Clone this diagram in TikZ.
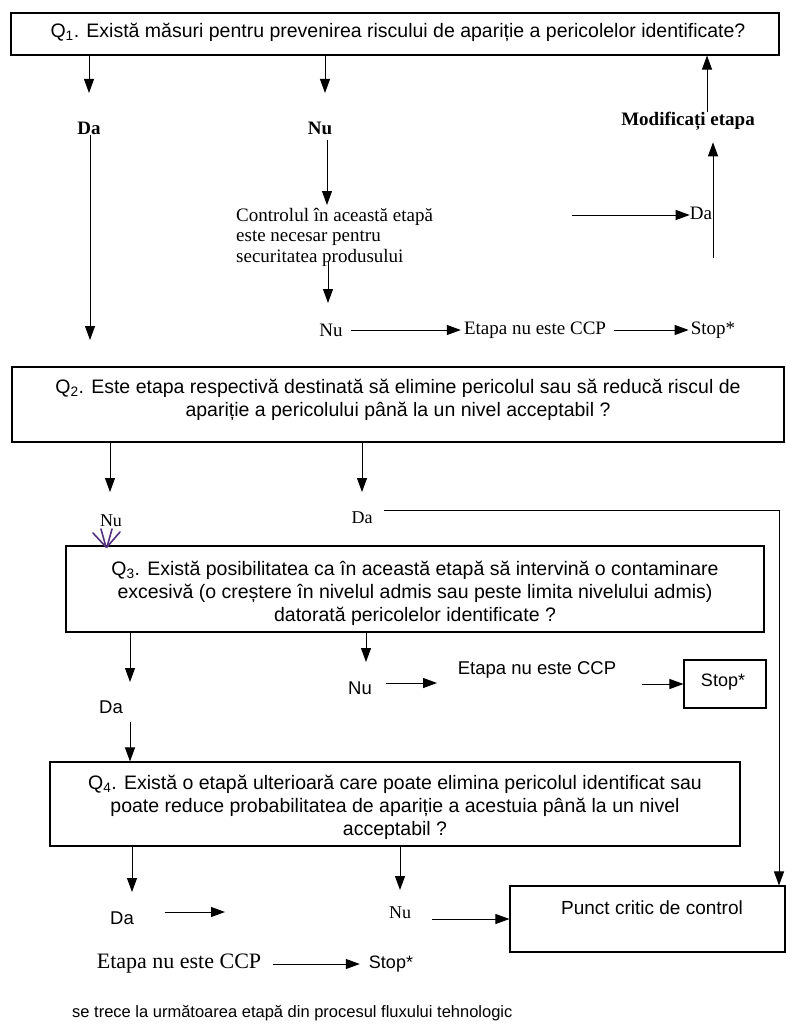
\documentclass[tikz,border=0pt]{standalone}
\usepackage{fontspec}
\setmainfont{Liberation Serif}
\setsansfont{Liberation Sans}
\usetikzlibrary{arrows.meta}
\definecolor{pen}{RGB}{85,50,125}
\begin{document}
\begin{tikzpicture}[x=1pt,y=-1pt,
  every node/.style={inner sep=0pt},
  qbox/.style={draw, line width=1.1pt},
  qtext/.style={font=\sffamily\fontsize{19.5}{23}\selectfont, align=center},
  sans/.style={font=\sffamily\fontsize{18.5}{22}\selectfont},
  serif/.style={font=\rmfamily\fontsize{19}{20.5}\selectfont},
  serifs/.style={font=\rmfamily\fontsize{18}{20}\selectfont},
  serifb/.style={font=\rmfamily\bfseries\fontsize{19}{20}\selectfont},
  arr/.style={line width=1pt, -{Triangle[length=14pt,width=10pt]}},
]
\path[use as bounding box] (0,0) rectangle (786,1027);
\fill[white] (0,0) rectangle (786,1027);

% ---------- Q1 ----------
\node[qbox, minimum width=768pt, minimum height=42pt] (q1) at (395,34) {};
\node[qtext] (q1t) at (398,32) {Q\textsubscript{1}. Există măsuri pentru prevenirea riscului de apariție a pericolelor identificate?};

\node[serifb] (da1) at (89,128) {Da};
\node[serifb] (nu1) at (320,128) {Nu};
\node[serifb] (mod) at (688,121) {Modificați etapa};

\coordinate (t1) at (89,93);
\coordinate (t2) at (325,93);
\draw[arr] (q1.south -| t1) -- (t1);
\draw[arr] (q1.south -| t2) -- (t2);

\coordinate (t3) at (90,340);
\draw[arr] (da1.south -| t3) -- (t3);

\node[serif, align=left, anchor=west] (ctrl) at (236,237) {Controlul în această etapă\\este necesar pentru\\securitatea produsului};
\coordinate (t4) at (327,205);
\draw[arr] ([yshift=-5pt]t4 |- nu1.south) -- (t4);

\node[serif] (nu2) at (331,330) {Nu};
\node[serif] (ccp1) at (535,330) {Etapa nu este CCP};
\node[serif] (stop1) at (713,330) {Stop*};
\coordinate (t5) at (328,303);
\draw[arr] ([yshift=4pt]ctrl.south -| t5) -- (t5);
\draw[arr, shorten <=8pt, shorten >=3pt] (nu2.east) -- (ccp1.west);
\draw[arr, shorten <=8pt, shorten >=2pt] (ccp1.east) -- (stop1.west);

\node[serif] (da3) at (701,213) {Da};
\coordinate (h0) at (572,215);
\draw[arr] (h0) -- (da3.west |- h0);
\coordinate (v0) at (713,258);
\draw[arr, shorten >=12pt] (v0) -- (mod.south -| v0);
\draw[arr] (mod.north -| 707,0) -- (q1.south -| 707,0);

% ---------- Q2 ----------
\node[qbox, minimum width=772pt, minimum height=75pt] (q2) at (398,404.5) {};
\node[qtext] (q2t) at (398,399.5) {Q\textsubscript{2}. Este etapa respectivă destinată să elimine pericolul sau să reducă riscul de\\apariție a pericolului până la un nivel acceptabil ?};

\node[serifs] (q2nu) at (111,521) {Nu};
\node[serifs] (q2da) at (362,518) {Da};
\coordinate (t7) at (110,492);
\coordinate (t8) at (362,492);
\draw[arr] (q2.south -| t7) -- (t7);
\draw[arr] (q2.south -| t8) -- (t8);

% ---------- Q3 ----------
\node[qbox, minimum width=698pt, minimum height=86pt] (q3) at (415,589) {};
\node[qtext] (q3t) at (415,593.5) {Q\textsubscript{3}. Există posibilitatea ca în această etapă să intervină o contaminare\\excesivă (o creștere în nivelul admis sau peste limita nivelului admis)\\datorată pericolelor identificate ?};

% hand-drawn pen mark above the Q3 box
\begin{scope}[pen, line width=1.6pt, line cap=round]
  \draw (93,533) -- (106,547);
  \draw (101,529) -- (106,547);
  \draw (112,529) -- (107,547);
  \draw (120,532) -- (107,547);
\end{scope}

\node[sans] (q3da) at (111,707) {Da};
\node[sans] (q3nu) at (360,688) {Nu};
\node[sans] (q3ccp) at (537,670) {Etapa nu este CCP};
\node[qbox, minimum width=82pt, minimum height=48pt] (stop2) at (725,684) {};
\node[font=\sffamily\fontsize{18}{20}\selectfont] (stop2t) at (723,682) {Stop*};

\coordinate (t9) at (130,682);
\coordinate (t10) at (366,662);
\draw[arr] (q3.south -| t9) -- (t9);
\draw[arr] (q3.south -| t10) -- (t10);
\coordinate (t11) at (437,683);
\draw[arr, shorten <=14pt] (q3nu.east |- t11) -- (t11);
\draw[arr, shorten <=26pt] (q3ccp.east |- stop2.west) -- (stop2.west);

% ---------- Q4 ----------
\node[qbox, minimum width=690pt, minimum height=84pt] (q4) at (395,804) {};
\node[qtext] (q4t) at (395,807) {Q\textsubscript{4}. Există o etapă ulterioară care poate elimina pericolul identificat sau\\poate reduce probabilitatea de apariție a acestuia până la un nivel\\acceptabil ?};

\coordinate (t12) at (130,722);
\draw[arr] (t12) -- (q4.north -| t12);

\node[sans] (q4da) at (122,918) {Da};
\node[serifs] (q4nu) at (400,913) {Nu};
\node[qbox, minimum width=275pt, minimum height=66pt] (punct) at (647.5,919) {};
\node[font=\sffamily\fontsize{19}{22}\selectfont] (punctt) at (652,908) {Punct critic de control};

\coordinate (t13) at (132,892);
\coordinate (t14) at (400,890);
\draw[arr] (q4.south -| t13) -- (t13);
\draw[arr] (q4.south -| t14) -- (t14);
\coordinate (t15) at (225,912);
\draw[arr, shorten <=31pt] (q4da.east |- t15) -- (t15);
\draw[arr, shorten <=21pt] (q4nu.east |- punct.west) -- (punct.west);

% Q2 "Da" branch down to the critical control point
\coordinate (rc) at (779,510);
\draw[arr] ([xshift=11pt]q2da.east |- rc) -- (rc) -- (rc |- punct.north);

\node[font=\rmfamily\fontsize{22}{24}\selectfont] (ccp2) at (179,964) {Etapa nu este CCP};
\node[font=\sffamily\fontsize{18}{20}\selectfont] (stop3) at (391,964) {Stop*};
\draw[arr, shorten <=12pt, shorten >=9pt] (ccp2.east) -- (stop3.west);

\node[font=\sffamily\fontsize{16.5}{19}\selectfont, anchor=west] (next) at (72,1013) {se trece la următoarea etapă din procesul fluxului tehnologic};
\end{tikzpicture}
\end{document}
